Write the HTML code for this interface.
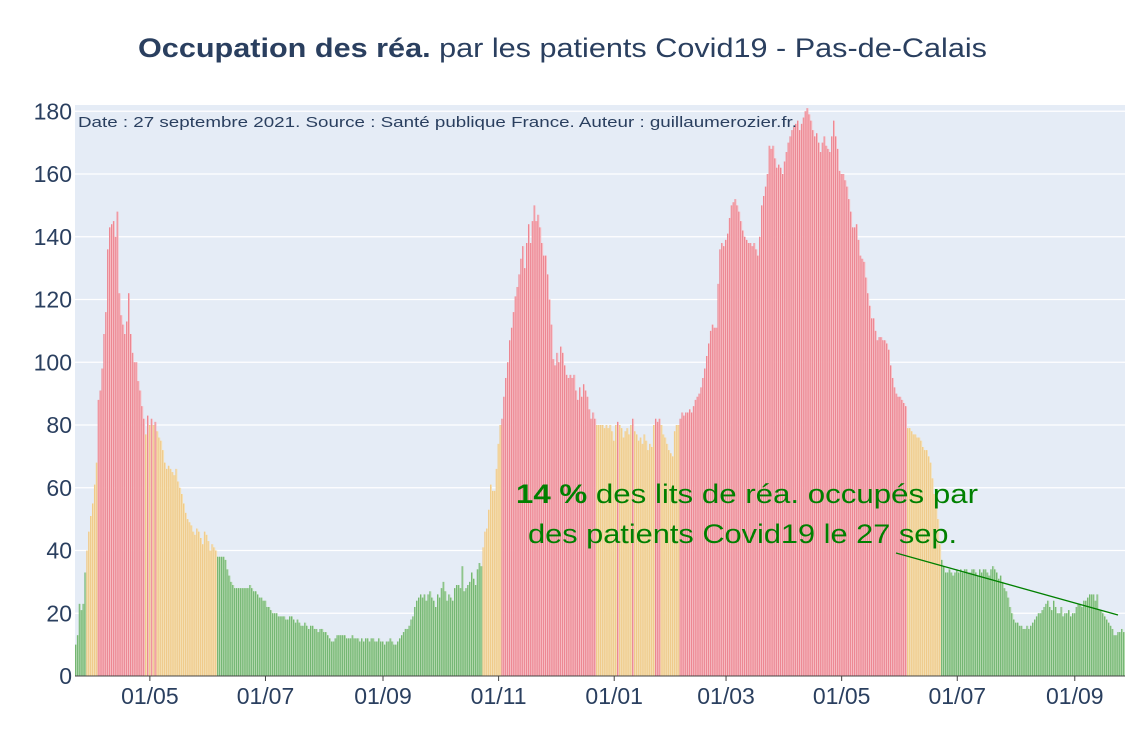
<!DOCTYPE html>
<html><head><meta charset="utf-8"><style>
body{margin:0;background:#fff;width:1125px;height:750px;overflow:hidden;font-family:"Liberation Sans",sans-serif}
</style></head><body>
<svg id="chart" width="1125" height="750" xmlns="http://www.w3.org/2000/svg">
<text x="138" y="57" font-size="27" fill="#2a3f5f" textLength="849" lengthAdjust="spacingAndGlyphs" font-family="Liberation Sans, sans-serif"><tspan font-weight="bold">Occupation des réa.</tspan> par les patients Covid19 - Pas-de-Calais</text>
<rect x="75" y="105" width="1050" height="571" fill="#e5ecf6"/>
<g id="grid"></g><g id="bars"></g><g id="axes"></g>
<text x="78" y="127" font-size="15" fill="#2a3f5f" textLength="719" lengthAdjust="spacingAndGlyphs">Date : 27 septembre 2021. Source : Santé publique France. Auteur : guillaumerozier.fr.</text>
<line x1="896" y1="553" x2="1118" y2="615" stroke="#008000" stroke-width="1.3"/>
<text x="516" y="503" font-size="27" fill="#008000" textLength="462" lengthAdjust="spacingAndGlyphs"><tspan font-weight="bold">14  %</tspan> des lits de réa. occupés par</text>
<text x="528" y="543" font-size="27" fill="#008000" textLength="429" lengthAdjust="spacingAndGlyphs">des patients Covid19 le 27 sep.</text>
</svg>
<script>
const startDate = "2020-03-23";
const values = [
10,13,23,21,23,33,
40,46,51,55,61,68,
88,91,98,109,116,136,143,144,145,140,148,
122,115,112,109,113,122,109,103,100,100,94,91,86,82,
77,83,80,82,80,81,78,76,75,72,68,66,67,
66,65,64,66,62,60,58,55,52,50,49,48,46,45,47,46,44,42,46,45,43,40,42,41,40,
38,38,38,38,37,34,32,30,29,28,
28,28,28,28,28,28,28,29,28,27,27,
26,25,25,24,24,22,22,21,20,20,
20,19,19,19,19,18,18,19,19,18,17,18,17,
16,16,17,16,15,16,16,15,15,14,15,15,14,14,13,12,
11,11,12,13,13,13,13,13,12,12,12,13,12,12,12,11,12,11,12,
12,11,12,12,11,11,12,11,11,10,11,11,12,11,10,10,11,12,
13,14,15,15,16,18,19,22,24,25,26,25,26,24,26,27,
25,24,22,26,25,28,30,27,24,26,25,24,28,29,29,28,35,27,28,29,30,33,31,29,34,36,35,
41,46,47,53,61,59,59,66,74,
80,82,89,95,100,107,111,116,121,124,128,133,137,130,138,144,138,145,
150,145,147,143,138,134,134,128,120,112,101,99,103,100,105,103,99,96,95,96,95,96,91,88,92,89,93,91,89,85,82,84,82,80,
80,80,80,79,80,79,80,78,75,80,81,80,79,76,78,79,77,80,82,78,77,75,76,74,77,75,72,74,73,80,82,81,82,80,77,76,74,72,71,70,78,
80,80,82,84,83,84,84,85,84,86,88,89,90,
92,95,98,102,106,110,112,111,111,125,
136,138,137,139,141,146,150,151,152,150,
148,145,142,140,139,138,138,137,138,136,134,
140,150,153,156,160,169,168,169,165,162,
163,162,160,164,167,170,172,174,175,176,
177,174,176,178,180,181,179,177,174,172,
173,170,167,170,172,169,168,167,172,177,
172,168,161,160,160,158,156,152,148,143,
143,144,139,134,133,132,127,122,118,114,
114,110,107,108,108,107,107,106,104,99,
95,92,90,89,89,88,87,86,
79,79,78,77,77,76,76,75,73,72,72,70,68,63,58,54,50,42,
37,35,33,33,34,33,32,33,34,33,34,33,34,34,33,33,34,34,33,32,34,33,34,34,33,32,34,35,34,33,31,32,
30,28,27,25,22,20,
18,17,17,16,16,15,15,16,15,16,
17,18,19,20,20,21,22,23,24,22,21,24,22,
20,20,22,19,20,20,21,19,20,20,
22,23,23,22,24,24,25,26,26,26,24,26,21,
21,20,19,18,17,16,15,13,13,14,14,15,14
];
const yTicks = [0,20,40,60,80,100,120,140,160,180];
const xTickDates = ["2020-05-01","2020-07-01","2020-09-01","2020-11-01","2021-01-01","2021-03-01","2021-05-01","2021-07-01","2021-09-01"];
const xTickLabels = ["01/05","01/07","01/09","01/11","01/01","01/03","01/05","01/07","01/09"];

const NS="http://www.w3.org/2000/svg";
const X0=75,X1=1125,Y0=676,Y1=105,YMAX=182;
const n=values.length, step=(X1-X0)/n;
const t0=Date.parse(startDate+"T00:00:00Z");
function xIdx(i){return X0+i*step;}
function xDate(s){return X0+((Date.parse(s+"T00:00:00Z")-t0)/86400000+0.5)*step;}
function y(v){return Y0-(v/YMAX)*(Y0-Y1);}
function mk(tag,attrs,parent){const e=document.createElementNS(NS,tag);for(const k in attrs)e.setAttribute(k,attrs[k]);parent.appendChild(e);return e;}
const grid=document.getElementById('grid'),bars=document.getElementById('bars'),axes=document.getElementById('axes');
yTicks.forEach(v=>{
  if(v>0){const l=mk('line',{x1:X0,x2:X1,y1:y(v),y2:y(v),stroke:'#fff','stroke-width':1.3},grid);
  
  }
  const t=mk('text',{x:72,y:y(v)+8,'text-anchor':'end','font-size':23,fill:'#2a3f5f'},axes);
  t.textContent=v;
  
  
});
values.forEach((v,i)=>{
  let fill,stroke;
  if(v>80){fill='#f7bcc2';stroke='#e8707e';}
  else if(v>=40){fill='#f4dfb2';stroke='#eec27a';}
  else {fill='#b1d8ac';stroke='#5aa85a';}
  const r=mk('rect',{x:xIdx(i),y:y(v),width:step,height:Y0-y(v),fill:fill},bars);
  
  
  const l=mk('line',{x1:xIdx(i)+0.4,x2:xIdx(i)+0.4,y1:y(v),y2:Y0,stroke:stroke,'stroke-width':0.7},bars);
  
  
});
xTickDates.forEach((d,k)=>{
  const x=xDate(d);
  const tk=mk('line',{x1:x,x2:x,y1:Y0,y2:Y0+5,stroke:'#444','stroke-width':1},axes);
  
  
  const t=mk('text',{x:x,y:704,'text-anchor':'middle','font-size':23,fill:'#2a3f5f'},axes);
  t.textContent=xTickLabels[k];
  
  
});
const base=mk('line',{x1:X0,x2:X1,y1:Y0,y2:Y0,stroke:'#444','stroke-width':1},axes);


</script>
</body></html>
